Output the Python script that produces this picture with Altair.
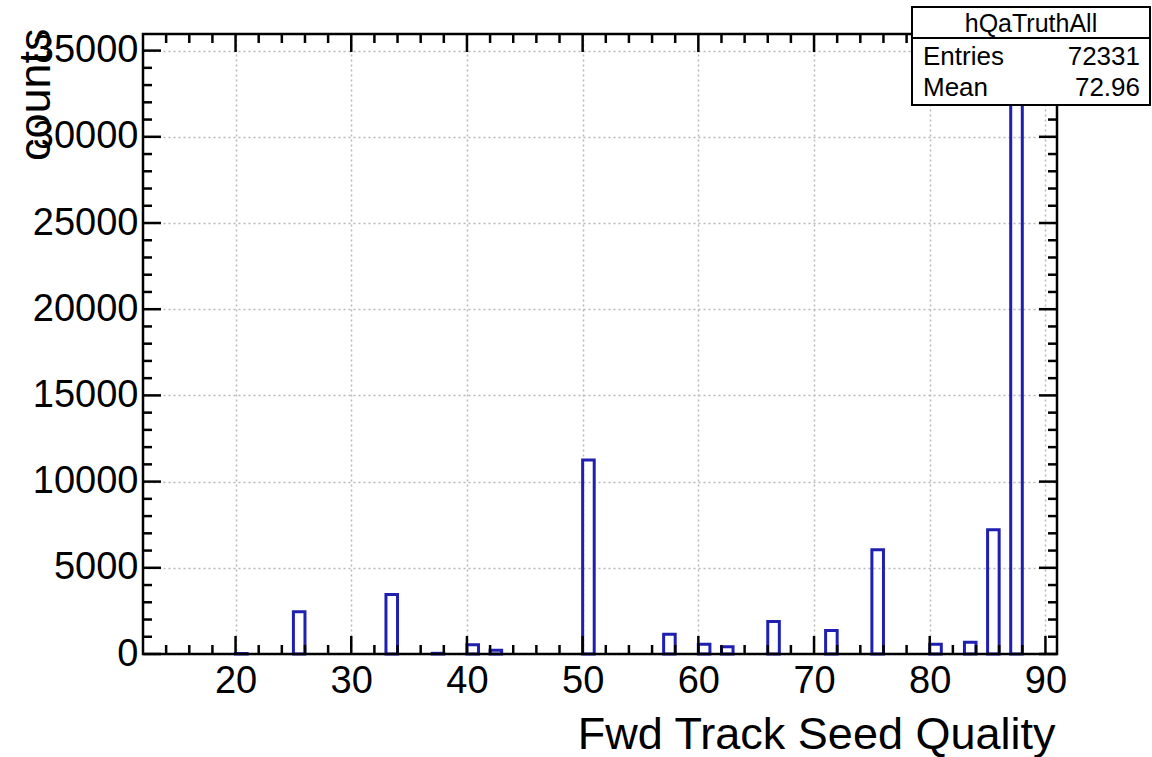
import altair as alt
import pandas as pd

# ---- histogram data (bin lower edges, unit-width bins) ----
bin_lo = [20, 25, 33, 37, 40, 42, 50, 57, 60, 62, 66, 71, 75, 80, 83, 85, 87]
counts = [30, 2450, 3450, 40, 530, 220, 11250, 1150, 560, 420, 1880, 1360, 6050, 560, 680, 7200, 34500]

x_major = [20, 30, 40, 50, 60, 70, 80, 90]
x_minor = [14, 16, 18, 22, 24, 26, 28, 32, 34, 36, 38, 42, 44, 46, 48, 52, 54, 56, 58,
           62, 64, 66, 68, 72, 74, 76, 78, 82, 84, 86, 88]
y_major = [0, 5000, 10000, 15000, 20000, 25000, 30000, 35000]
y_minor = [v for v in range(1000, 36000, 1000) if v % 5000 != 0]

stats_title = "hQaTruthAll"
stats_names = ["Entries", "Mean"]
stats_values = ["72331", "72.96"]

x_title = "Fwd Track Seed Quality"
y_title = "counts"

W, H = 914, 620
FONT = "Liberation Sans"
BLUE = "#1f1fb0"

df = pd.DataFrame({"lo": bin_lo, "hi": [b + 1 for b in bin_lo], "count": counts})

xs = alt.Scale(domain=[12, 91], nice=False, zero=False)
ys = alt.Scale(domain=[0, 35963], nice=False)

x_axis = alt.Axis(
    values=x_major, grid=True, ticks=False, domain=False,
    labelFont=FONT, labelFontSize=38, labelColor="black", labelPadding=8,
    title=x_title, titleFont=FONT, titleFontSize=45, titleFontWeight="normal",
    titleColor="black", titleAlign="right", titleBaseline="alphabetic",
    titleX=W - 2, titleY=94,
    gridDash=[2, 3], gridColor="#b8b8b8", gridWidth=1.5)
y_axis = alt.Axis(
    values=y_major, grid=True, ticks=False, domain=False, format="d",
    labelFont=FONT, labelFontSize=38, labelColor="black", labelPadding=5,
    title=y_title, titleFont=FONT, titleFontSize=45, titleFontWeight="normal",
    titleColor="black", titleAngle=270, titleAlign="right", titleBaseline="middle",
    titleX=-108, titleY=-6,
    gridDash=[2, 3], gridColor="#b8b8b8", gridWidth=1.5)

bars = alt.Chart(df).mark_rect(fillOpacity=0, stroke=BLUE, strokeWidth=3).encode(
    x=alt.X("lo:Q", scale=xs, axis=x_axis),
    x2="hi:Q",
    y=alt.Y("count:Q", scale=ys, axis=y_axis),
    y2=alt.datum(0),
)

one = alt.Data(values=[{}])


def xticks(vals, y0, y1):
    d = pd.DataFrame({"lo": vals})
    return alt.Chart(d).mark_rule(color="black", strokeWidth=2.5).encode(
        x=alt.X("lo:Q", scale=xs, axis=x_axis), y=alt.value(y0), y2=alt.value(y1))


def yticks(vals, x0, x1):
    d = pd.DataFrame({"count": vals})
    return alt.Chart(d).mark_rule(color="black", strokeWidth=2.5).encode(
        y=alt.Y("count:Q", scale=ys, axis=y_axis), x=alt.value(x0), x2=alt.value(x1))


MAJ, MIN = 18, 9
ticks = [
    xticks(x_major, H, H - MAJ), xticks(x_minor, H, H - MIN),
    xticks(x_major, 0, MAJ), xticks(x_minor, 0, MIN),
    yticks(y_major, 0, MAJ), yticks(y_minor, 0, MIN),
    yticks(y_major, W, W - MAJ), yticks(y_minor, W, W - MIN),
]

frame = alt.Chart(one).mark_rect(fillOpacity=0, stroke="black", strokeWidth=2.5).encode(
    x=alt.value(0), x2=alt.value(W), y=alt.value(0), y2=alt.value(H))

# stats box (top-right, partly outside the frame)
bx0, bx1, by0, by1 = 769, 1007, -27, 71
box = alt.Chart(one).mark_rect(fill="white", stroke="black", strokeWidth=2).encode(
    x=alt.value(bx0), x2=alt.value(bx1), y=alt.value(by0), y2=alt.value(by1))
divider = alt.Chart(one).mark_rule(color="black", strokeWidth=2).encode(
    x=alt.value(bx0), x2=alt.value(bx1), y=alt.value(4))
head = alt.Chart(one).mark_text(text=stats_title, font=FONT, fontSize=25, align="center",
                                baseline="alphabetic", color="black").encode(
    x=alt.value((bx0 + bx1) / 2), y=alt.value(-2))
name_layers = []
for i, (n, v) in enumerate(zip(stats_names, stats_values)):
    yy = 31 + i * 31
    name_layers.append(alt.Chart(one).mark_text(text=n, font=FONT, fontSize=26, align="left",
                                                baseline="alphabetic", color="black").encode(
        x=alt.value(bx0 + 11), y=alt.value(yy)))
    name_layers.append(alt.Chart(one).mark_text(text=v, font=FONT, fontSize=26, align="right",
                                                baseline="alphabetic", color="black").encode(
        x=alt.value(bx1 - 10), y=alt.value(yy)))

chart = alt.layer(bars, *ticks, frame, box, divider, head, *name_layers).properties(
    width=W, height=H,
    autosize=alt.AutoSizeParams(type="none"),
    padding={"left": 143, "top": 34, "right": 95, "bottom": 103},
    background="white",
).configure_view(stroke=None)

chart.save("out.html", embed_options={"renderer": "svg", "actions": False})
